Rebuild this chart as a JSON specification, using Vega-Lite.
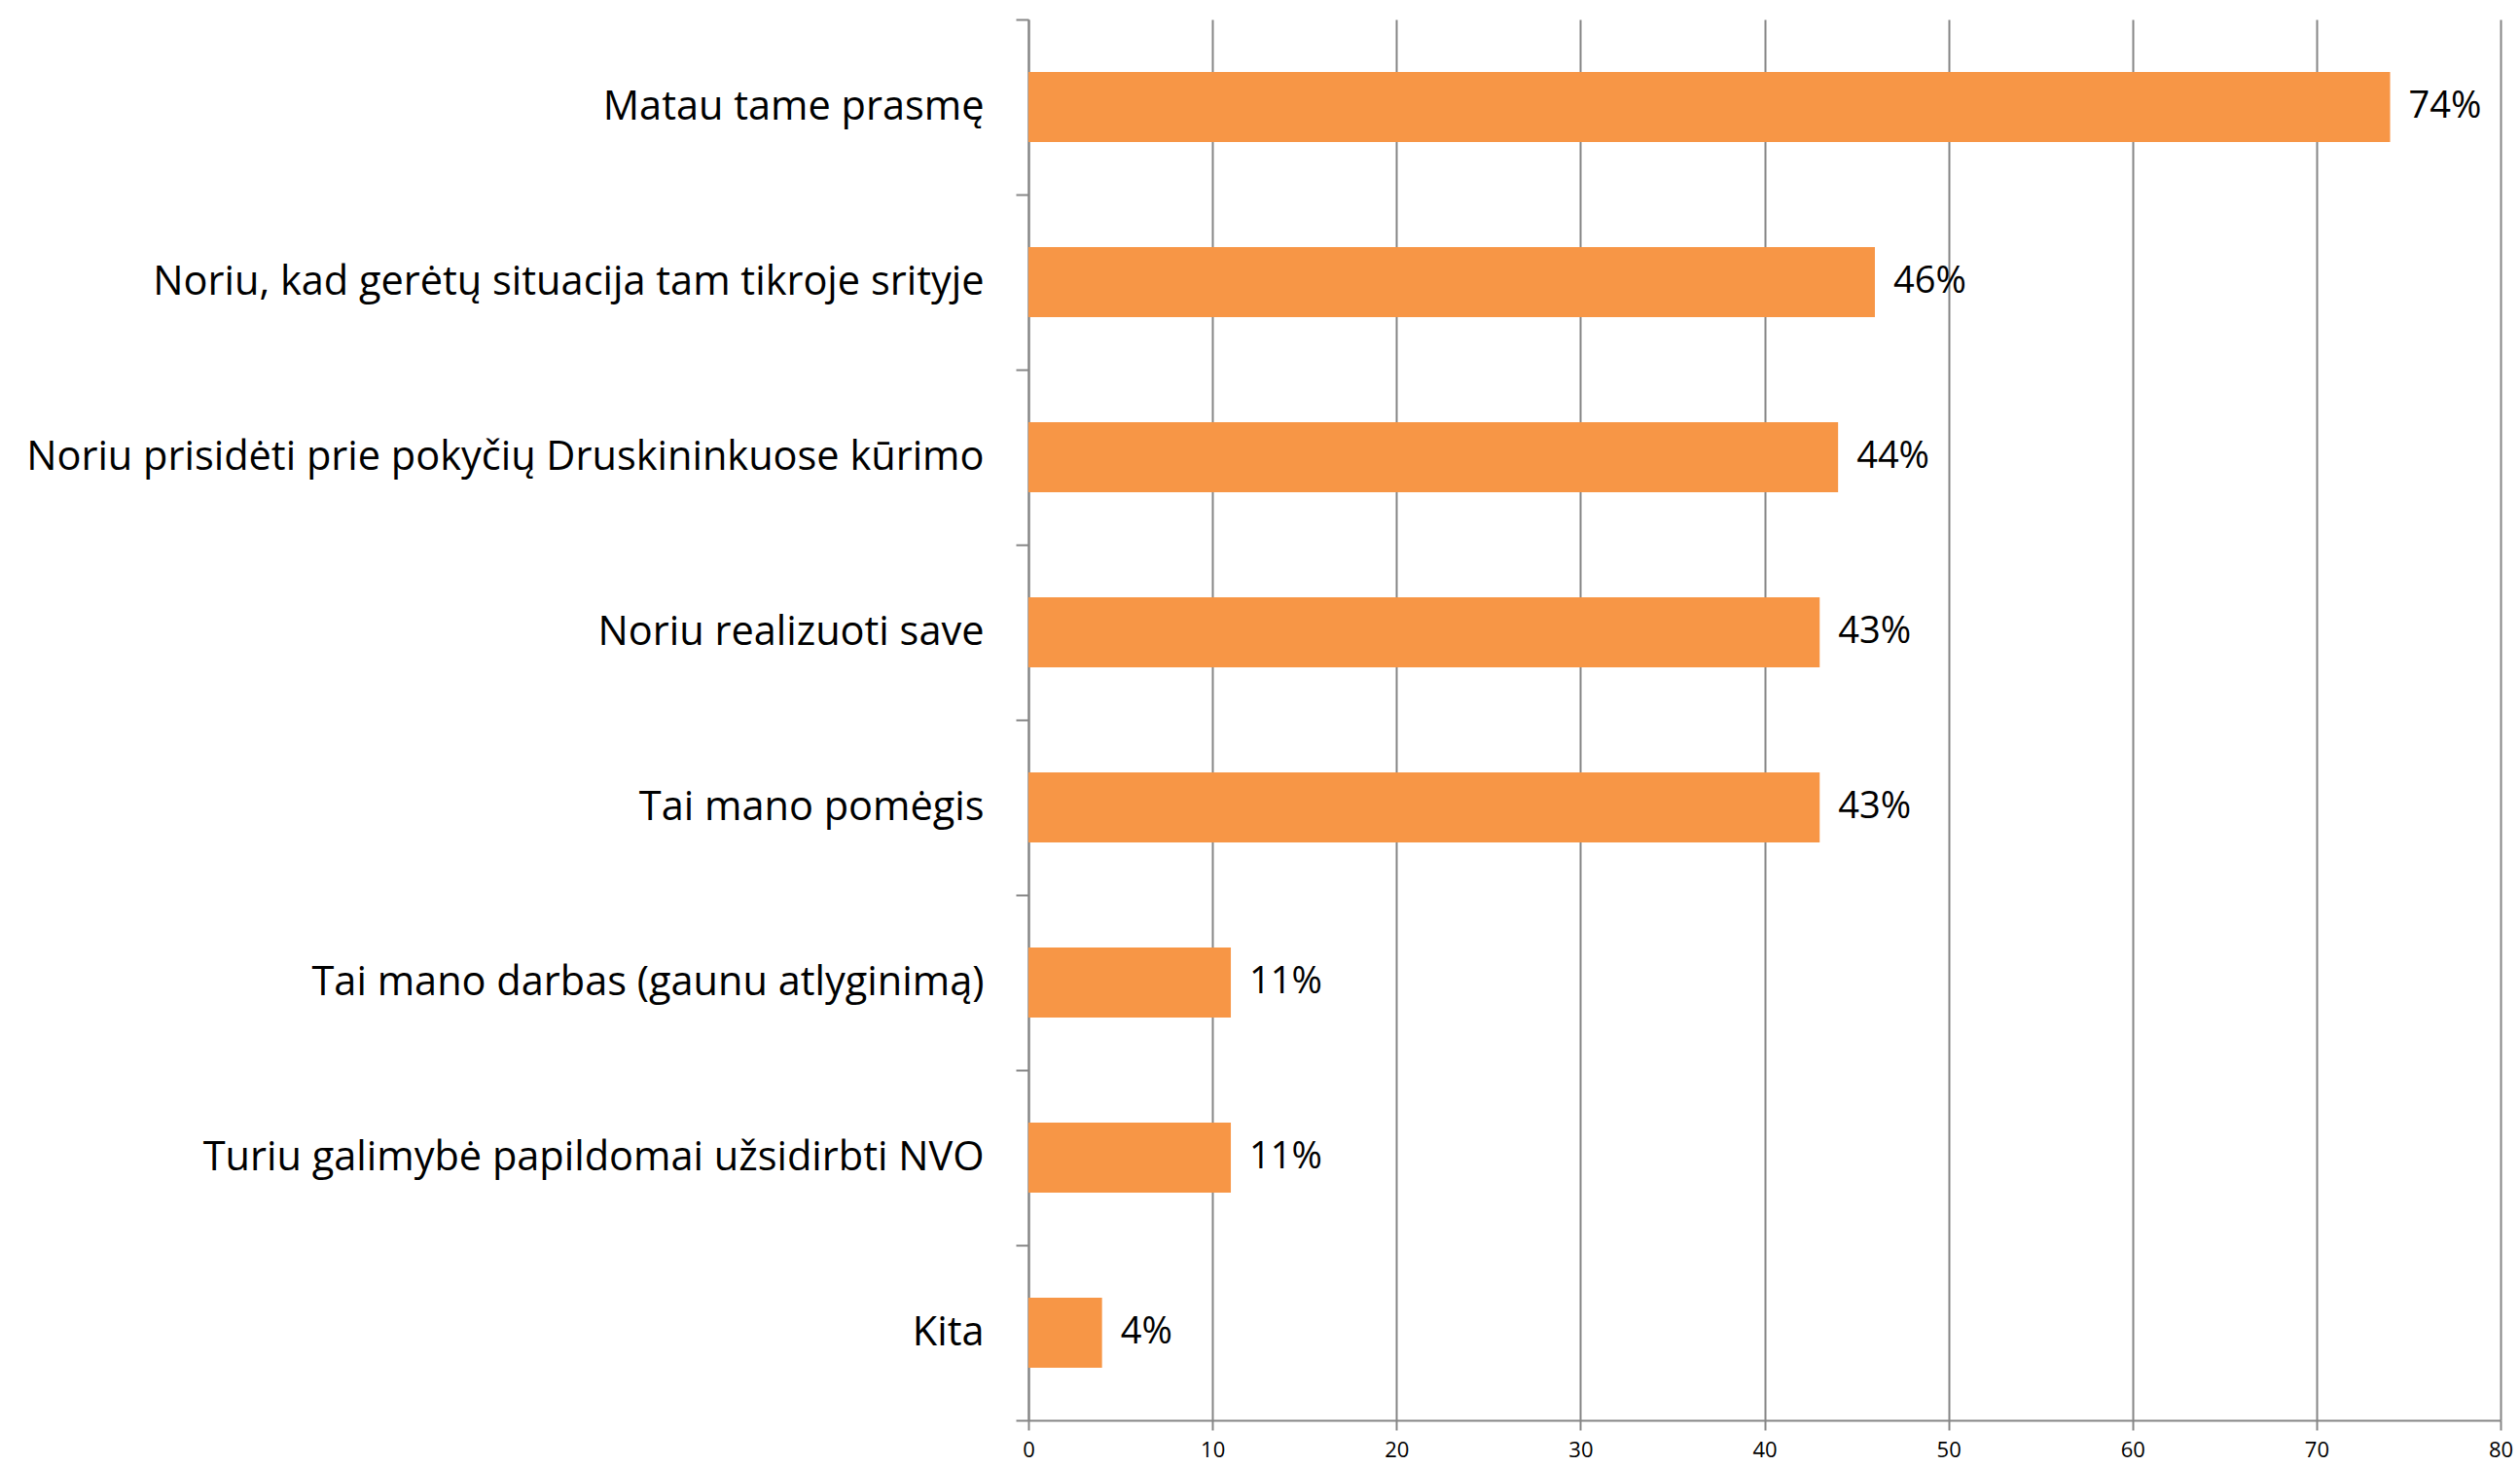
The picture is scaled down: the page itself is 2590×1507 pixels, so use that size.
{
  "$schema": "https://vega.github.io/schema/vega-lite/v6.json",
  "autosize": {"type": "none"},
  "width": 1513,
  "height": 1440,
  "padding": {"left": 1057, "top": 20, "right": 20, "bottom": 47},
  "background": "white",
  "config": {"view": {"stroke": null}, "font": "Open Sans"},
  "data": {
    "values": [
      {"cat": "Matau tame prasmę", "value": 74, "label": "74%"},
      {"cat": "Noriu, kad gerėtų situacija tam tikroje srityje", "value": 46, "label": "46%"},
      {"cat": "Noriu prisidėti prie pokyčių Druskininkuose kūrimo", "value": 44, "label": "44%"},
      {"cat": "Noriu realizuoti save", "value": 43, "label": "43%"},
      {"cat": "Tai mano pomėgis", "value": 43, "label": "43%"},
      {"cat": "Tai mano darbas (gaunu atlyginimą)", "value": 11, "label": "11%"},
      {"cat": "Turiu galimybė papildomai užsidirbti NVO", "value": 11, "label": "11%"},
      {"cat": "Kita", "value": 4, "label": "4%"}
    ]
  },
  "encoding": {
    "y": {
      "field": "cat", "type": "nominal", "sort": null, "title": null,
      "scale": {"paddingInner": 0, "paddingOuter": 0},
      "axis": {
        "labelFont": "Open Sans", "labelFontSize": 41.5, "labelColor": "#000000",
        "labelPadding": 33, "labelLimit": 1100,
        "tickBand": "extent", "tickSize": 13, "tickColor": "#868686", "tickWidth": 2,
        "domainColor": "#868686", "domainWidth": 2, "grid": false
      }
    },
    "x": {
      "field": "value", "type": "quantitative", "title": null,
      "scale": {"domain": [0, 80], "nice": false},
      "axis": {
        "values": [0, 10, 20, 30, 40, 50, 60, 70, 80],
        "labelFont": "Open Sans", "labelFontSize": 22, "labelColor": "#000000",
        "labelPadding": 10, "tickSize": 10, "tickColor": "#868686", "tickWidth": 2,
        "domainColor": "#868686", "domainWidth": 2,
        "grid": true, "gridColor": "#868686", "gridWidth": 2,
        "labelFlush": false
      }
    }
  },
  "layer": [
    {"mark": {"type": "bar", "color": "#F79646", "size": 72}},
    {
      "mark": {"type": "text", "align": "left", "baseline": "middle", "dx": 19, "fontSize": 38, "font": "Open Sans", "color": "#000000"},
      "encoding": {"text": {"field": "label", "type": "nominal"}}
    }
  ]
}
